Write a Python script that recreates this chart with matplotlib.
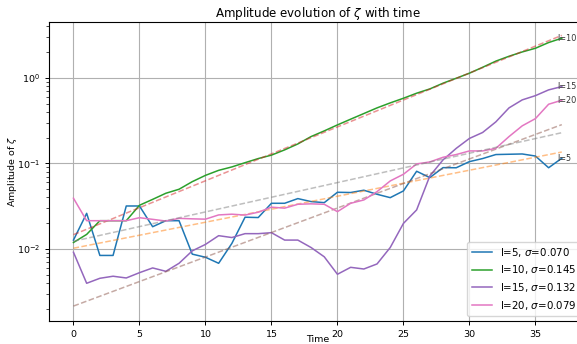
import numpy as np
import matplotlib
matplotlib.use("Agg")
import matplotlib.pyplot as plt

time = np.arange(38)

amp_l5 = [0.0127, 0.0261, 0.0084, 0.0084, 0.0318, 0.0318, 0.0182, 0.0214, 0.0214, 0.0087,
          0.0080, 0.0068, 0.0116, 0.0235, 0.0233, 0.0342, 0.0342, 0.0388, 0.0358, 0.0348,
          0.0460, 0.0457, 0.0486, 0.0436, 0.0398, 0.0477, 0.0810, 0.0683, 0.0893, 0.0890,
          0.1050, 0.1140, 0.1270, 0.1280, 0.1290, 0.1220, 0.0890, 0.1150]
amp_l10 = [0.0119, 0.0148, 0.0214, 0.0214, 0.0214, 0.0324, 0.0380, 0.0448, 0.0499, 0.0612,
           0.0725, 0.0830, 0.0910, 0.1020, 0.1140, 0.1250, 0.1440, 0.1690, 0.2060, 0.2400,
           0.2820, 0.3290, 0.3830, 0.4460, 0.5100, 0.5780, 0.6620, 0.7430, 0.8670, 0.9900,
           1.1350, 1.3300, 1.5700, 1.7900, 2.0100, 2.2200, 2.5900, 2.9100]
amp_l15 = [0.00915, 0.00397, 0.00454, 0.0048, 0.00458, 0.00528, 0.0060, 0.00548, 0.0068, 0.0095,
           0.0113, 0.0143, 0.0136, 0.0151, 0.0151, 0.0155, 0.0127, 0.0127, 0.0104, 0.0081,
           0.00506, 0.0061, 0.00583, 0.00668, 0.0104, 0.0199, 0.0286, 0.0714, 0.1100, 0.1500,
           0.1960, 0.2300, 0.3060, 0.4460, 0.5530, 0.6200, 0.7240, 0.7920]
amp_l20 = [0.0392, 0.0214, 0.0214, 0.0214, 0.0214, 0.0232, 0.0222, 0.0212, 0.0228, 0.0225,
           0.0223, 0.0250, 0.0255, 0.0249, 0.0269, 0.0308, 0.0300, 0.0333, 0.0337, 0.0333,
           0.0273, 0.0342, 0.0374, 0.0468, 0.0624, 0.0747, 0.0987, 0.1040, 0.1180, 0.1270,
           0.1400, 0.1400, 0.1500, 0.2060, 0.2750, 0.3340, 0.4920, 0.5480]

modes = [5, 10, 15, 20]
sigmas = [0.070, 0.145, 0.132, 0.079]
fit_amp0 = [0.0102, 0.0147, 0.00215, 0.0123]
series = [amp_l5, amp_l10, amp_l15, amp_l20]
line_colors = ["#1f77b4", "#2ca02c", "#9467bd", "#e377c2"]
fit_colors = ["#ff7f0e", "#d62728", "#8c564b", "#7f7f7f"]

fs = 6.8
fig = plt.figure(figsize=(5.77, 3.44), dpi=100)
ax = fig.add_axes([0.085, 0.067, 0.931, 0.869])

for l, s, a0, y, lc, fc in zip(modes, sigmas, fit_amp0, series, line_colors, fit_colors):
    ax.plot(time, y, color=lc, lw=1.1, label=f"l={l}, $\\sigma$={s:.3f}")
    ax.plot(time, a0 * np.exp(s * time), "--", color=fc, alpha=0.5, lw=1.1)
    ax.text(36.65, y[-1], f"l={l}", fontsize=5.9, color="#333333",
            ha="left", va="center")

ax.set_yscale("log")
ax.set_xlim(-1.85, 38.85)
ax.set_ylim(0.00144, 4.5)
ax.grid(True, which="major", color="#b0b0b0", lw=0.8)
ax.set_xticks([0, 5, 10, 15, 20, 25, 30, 35])
ax.tick_params(labelsize=fs, width=0.7, length=3)
ax.tick_params(which="minor", width=0.5, length=2)
for sp in ax.spines.values():
    sp.set_linewidth(0.8)
ax.set_title("Amplitude evolution of $\\zeta$ with time", fontsize=8.6, pad=3)
ax.set_xlabel("Time", fontsize=fs)
ax.set_ylabel("Amplitude of $\\zeta$", fontsize=fs)
ax.yaxis.set_label_coords(-0.056, 0.5)
ax.xaxis.set_label_coords(0.5, -0.048)
ax.legend(loc="lower right", fontsize=7.4, framealpha=0.8, borderaxespad=0.5,
          labelspacing=0.45, borderpad=0.4)

fig.savefig("out.png", dpi=100)
